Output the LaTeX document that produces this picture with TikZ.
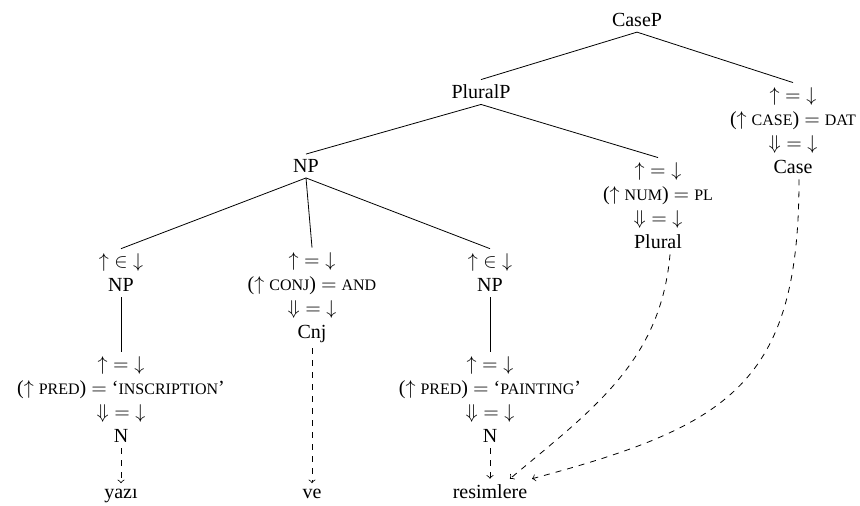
\documentclass[tikz,border=0pt]{standalone}
\usepackage{amsmath,amssymb}
\usepackage{fontspec}
\setmainfont{LiberationSerif}[Extension=.ttf,UprightFont=*-Regular,BoldFont=*-Bold,ItalicFont=*-Italic,Ligatures=TeX]
\usepackage{tikz}
\usetikzlibrary{positioning}
\newcommand{\fsc}[1]{{\fontsize{8}{10}\selectfont #1}}
\newcommand{\ueq}{\({\uparrow}={\downarrow}\)}
\newcommand{\uin}{\({\uparrow}\in{\downarrow}\)}
\newcommand{\Deq}{\({\Downarrow}={\downarrow}\)}

\begin{document}
\begin{tikzpicture}[
  x=0.5pt,y=0.5pt,
  every node/.style={align=center,inner sep=2.5pt},
  arr/.style={->,dashed},
  word/.style={anchor=base}
]
\useasboundingbox (0,0) rectangle (860,-505);
\node (casep) at (637,-20) {CaseP};
\node (pluralp) at (481,-92) {PluralP};
\node (casehd) at (793,-131) {\ueq\\(\(\uparrow\) \fsc{CASE}) \(=\) \fsc{DAT}\\\Deq\\Case};
\node (np) at (306,-166) {NP};
\node (pluralhd) at (658,-206) {\ueq\\(\(\uparrow\) \fsc{NUM}) \(=\) \fsc{PL}\\\Deq\\Plural};
\node (npl) at (121,-273) {\uin\\NP};
\node (cnj) at (312,-298) {\ueq\\(\(\uparrow\) \fsc{CONJ}) \(=\) \fsc{AND}\\\Deq\\Cnj};
\node (npr) at (490,-273) {\uin\\NP};
\node (nl) at (121,-400) {\ueq\\(\(\uparrow\) \fsc{PRED}) \(=\) `\fsc{INSCRIPTION}'\\\Deq\\N};
\node (nr) at (490,-400) {\ueq\\(\(\uparrow\) \fsc{PRED}) \(=\) `\fsc{PAINTING}'\\\Deq\\N};
\node[word] (yazi) at (121,-498) {yazı};
\node[word] (ve) at (312,-498) {ve};
\node[word] (resim) at (490,-498) {resimlere};
% tree
\draw (casep.south) -- (pluralp.north);
\draw (casep.south) -- (casehd.north);
\draw (pluralp.south) -- (np.north);
\draw (pluralp.south) -- (pluralhd.north);
\draw (np.south) -- (npl.north);
\draw (np.south) -- (cnj.north);
\draw (np.south) -- (npr.north);
\draw (npl.south) -- (nl.north);
\draw (npr.south) -- (nr.north);
% lexical links
\draw[arr] (nl.south) -- (yazi.north);
\draw[arr] (cnj.south) -- (ve.north);
\draw[arr] (nr.south) -- (resim.north);
\draw[arr] ([xshift=6pt]pluralhd.south) to[out=-95,in=40] ([xshift=10pt]resim.north);
\draw[arr] ([xshift=3pt]casehd.south) to[out=-90,in=15,looseness=1.3] ([xshift=21pt]resim.north);
\end{tikzpicture}
\end{document}
